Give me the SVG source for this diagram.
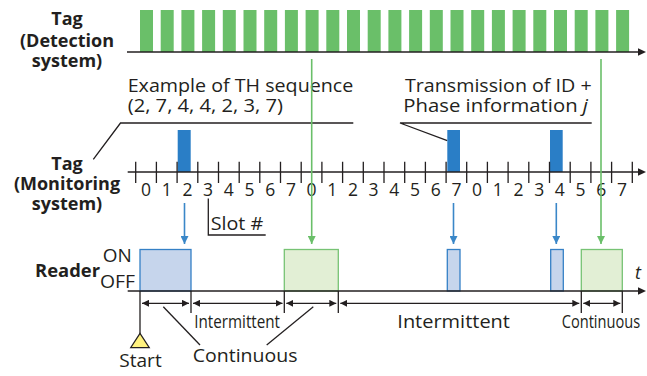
<svg xmlns="http://www.w3.org/2000/svg" width="647" height="376" viewBox="0 0 647 376">
<style>
text{font-family:"Open Sans","Noto Sans","Liberation Sans",sans-serif;fill:#231f20;}
.b{font-weight:bold;font-size:18px;}
.r{font-size:18px;}
.d{font-size:17.5px;text-anchor:middle;}
.ln{stroke:#231f20;stroke-width:1.3;fill:none;}
.ax{stroke:#231f20;stroke-width:1.5;fill:none;}
.tk{stroke:#231f20;stroke-width:1.3;}
.gb{fill:#6abf69;}
.bp{fill:#2a7ec6;}
.gl{stroke:#6abf69;stroke-width:1.6;fill:none;}
.bl{stroke:#3a87c8;stroke-width:1.6;fill:none;}
.rb{fill:#c6d5ec;stroke:#3580c6;stroke-width:1.3;}
.rg{fill:#e2efd5;stroke:#77c374;stroke-width:1.3;}
</style>
<defs>
<marker id="ah" viewBox="0 0 10 10" refX="10" refY="5" markerWidth="7" markerHeight="7" markerUnits="userSpaceOnUse" orient="auto-start-reverse"><path d="M0,0L10,5L0,10z" fill="#231f20"/></marker>
<marker id="ab" viewBox="0 0 10 10" refX="10" refY="5" markerWidth="8" markerHeight="8" markerUnits="userSpaceOnUse" orient="auto"><path d="M0,0L10,5L0,10z" fill="#3a87c8"/></marker>
<marker id="ag" viewBox="0 0 10 10" refX="10" refY="5" markerWidth="8" markerHeight="8" markerUnits="userSpaceOnUse" orient="auto"><path d="M0,0L10,5L0,10z" fill="#6abf69"/></marker>
</defs>

<g id="label-tag-detection">
<text class="b" x="67" y="25" text-anchor="middle">Tag</text>
<text class="b" x="67" y="46.5" text-anchor="middle">(Detection</text>
<text class="b" x="67" y="67" text-anchor="middle">system)</text>
</g>

<g id="detection-pulses">
<rect class="gb" x="140" y="10" width="13" height="42"/>
<rect class="gb" x="160.7" y="10" width="13" height="42"/>
<rect class="gb" x="181.4" y="10" width="13" height="42"/>
<rect class="gb" x="202.1" y="10" width="13" height="42"/>
<rect class="gb" x="222.8" y="10" width="13" height="42"/>
<rect class="gb" x="243.5" y="10" width="13" height="42"/>
<rect class="gb" x="264.2" y="10" width="13" height="42"/>
<rect class="gb" x="284.9" y="10" width="13" height="42"/>
<rect class="gb" x="305.6" y="10" width="13" height="42"/>
<rect class="gb" x="326.3" y="10" width="13" height="42"/>
<rect class="gb" x="347.0" y="10" width="13" height="42"/>
<rect class="gb" x="367.7" y="10" width="13" height="42"/>
<rect class="gb" x="388.4" y="10" width="13" height="42"/>
<rect class="gb" x="409.1" y="10" width="13" height="42"/>
<rect class="gb" x="429.8" y="10" width="13" height="42"/>
<rect class="gb" x="450.5" y="10" width="13" height="42"/>
<rect class="gb" x="471.2" y="10" width="13" height="42"/>
<rect class="gb" x="491.9" y="10" width="13" height="42"/>
<rect class="gb" x="512.6" y="10" width="13" height="42"/>
<rect class="gb" x="533.3" y="10" width="13" height="42"/>
<rect class="gb" x="554.0" y="10" width="13" height="42"/>
<rect class="gb" x="574.7" y="10" width="13" height="42"/>
<rect class="gb" x="595.4" y="10" width="13" height="42"/>
<rect class="gb" x="616.1" y="10" width="13" height="42"/>
<line class="ax" x1="127" y1="52" x2="639" y2="52"/>
<path d="M638,48.3L646,52L638,55.7z" fill="#231f20"/>
</g>

<g id="note-th-sequence">
<text class="r" x="127.7" y="91.5" textLength="225.6" lengthAdjust="spacingAndGlyphs">Example of TH sequence</text>
<text class="r" x="127.7" y="111.5" textLength="155.3" lengthAdjust="spacingAndGlyphs">(2, 7, 4, 4, 2, 3, 7)</text>
<polyline class="ln" points="353.3,123 120.5,123 93.3,159.3"/>
</g>

<g id="note-transmission">
<text class="r" x="405" y="91.5" textLength="186.7" lengthAdjust="spacingAndGlyphs">Transmission of ID +</text>
<text class="r" x="403.3" y="111.5" textLength="184.7" lengthAdjust="spacingAndGlyphs">Phase information <tspan font-style="italic">j</tspan></text>
<polyline class="ln" points="591.7,123 400,123 447.3,140.7"/>
</g>

<g id="label-tag-monitoring">
<text class="b" x="67" y="170" text-anchor="middle">Tag</text>
<text class="b" x="67" y="190" text-anchor="middle">(Monitoring</text>
<text class="b" x="67" y="210" text-anchor="middle">system)</text>
</g>

<g id="monitoring-timeline">
<rect class="bp" x="177.7" y="130" width="13" height="42"/>
<rect class="bp" x="447.3" y="130" width="12.7" height="42"/>
<rect class="bp" x="550" y="130" width="12.7" height="42"/>
<line class="ax" x1="127.7" y1="172" x2="639" y2="172"/>
<path d="M638,168.3L646,172L638,175.7z" fill="#231f20"/>
<path class="tk" d="M135.7,161.7V183M156.4,161.7V183M177.1,161.7V183M197.8,161.7V183M218.5,161.7V183M239.2,161.7V183M259.8,161.7V183M280.5,161.7V183M301.2,161.7V183M321.9,161.7V183M342.6,161.7V183M363.3,161.7V183M384.0,161.7V183M404.7,161.7V183M425.4,161.7V183M446.1,161.7V183M466.7,161.7V183M487.4,161.7V183M508.1,161.7V183M528.8,161.7V183M549.5,161.7V183M570.2,161.7V183M590.9,161.7V183M611.6,161.7V183M632.3,161.7V183"/>
<text class="d" x="146.0" y="195.5">0</text>
<text class="d" x="166.7" y="195.5">1</text>
<text class="d" x="187.4" y="195.5">2</text>
<text class="d" x="208.1" y="195.5">3</text>
<text class="d" x="228.8" y="195.5">4</text>
<text class="d" x="249.5" y="195.5">5</text>
<text class="d" x="270.2" y="195.5">6</text>
<text class="d" x="290.9" y="195.5">7</text>
<text class="d" x="311.6" y="195.5">0</text>
<text class="d" x="332.2" y="195.5">1</text>
<text class="d" x="352.9" y="195.5">2</text>
<text class="d" x="373.6" y="195.5">3</text>
<text class="d" x="394.3" y="195.5">4</text>
<text class="d" x="415.0" y="195.5">5</text>
<text class="d" x="435.7" y="195.5">6</text>
<text class="d" x="456.4" y="195.5">7</text>
<text class="d" x="477.1" y="195.5">0</text>
<text class="d" x="497.8" y="195.5">1</text>
<text class="d" x="518.5" y="195.5">2</text>
<text class="d" x="539.2" y="195.5">3</text>
<text class="d" x="559.8" y="195.5">4</text>
<text class="d" x="580.5" y="195.5">5</text>
<text class="d" x="601.2" y="195.5">6</text>
<text class="d" x="621.9" y="195.5">7</text>
</g>

<g id="note-slot">
<polyline class="ln" points="208.3,198.5 208.3,235 265.7,235"/>
<text class="r" x="210.7" y="230" textLength="52.6" lengthAdjust="spacingAndGlyphs">Slot #</text>
</g>

<g id="connectors">
<line class="gl" x1="311.7" y1="59" x2="311.7" y2="244" marker-end="url(#ag)"/>
<line class="gl" x1="601" y1="59" x2="601" y2="244" marker-end="url(#ag)"/>
<line class="bl" x1="184.5" y1="203" x2="184.5" y2="244" marker-end="url(#ab)"/>
<line class="bl" x1="453.5" y1="203" x2="453.5" y2="244" marker-end="url(#ab)"/>
<line class="bl" x1="556.3" y1="203" x2="556.3" y2="244" marker-end="url(#ab)"/>
</g>

<g id="label-reader">
<text class="b" x="35" y="276.7" textLength="65" lengthAdjust="spacingAndGlyphs">Reader</text>
<text class="r" x="102.7" y="261.7" textLength="29" lengthAdjust="spacingAndGlyphs">ON</text>
<text class="r" x="100" y="288.3" textLength="35" lengthAdjust="spacingAndGlyphs">OFF</text>
</g>

<g id="reader-timeline">
<rect class="rb" x="140" y="249.5" width="51" height="41.5"/>
<rect class="rg" x="284.3" y="249.5" width="54" height="41.5"/>
<rect class="rb" x="447.3" y="249.5" width="12.7" height="41.5"/>
<rect class="rb" x="550.7" y="249.5" width="12.6" height="41.5"/>
<rect class="rg" x="581.3" y="249.5" width="41" height="41.5"/>
<line class="ax" x1="127.7" y1="291" x2="639" y2="291"/>
<path d="M638,287.3L646,291L638,294.7z" fill="#231f20"/>
<text class="r" x="635" y="279" font-style="italic" font-size="20">t</text>
</g>

<g id="durations">
<line class="ln" x1="140" y1="291" x2="140" y2="334"/>
<path class="ln" d="M191,291V313M284.3,291V313M338.3,291V313M581.3,291V313M622.3,291V313"/>
<line class="ln" x1="142" y1="303.3" x2="189" y2="303.3" marker-start="url(#ah)" marker-end="url(#ah)"/>
<line class="ln" x1="193" y1="303.3" x2="282.5" y2="303.3" marker-start="url(#ah)" marker-end="url(#ah)"/>
<line class="ln" x1="286.3" y1="303.3" x2="336.3" y2="303.3" marker-start="url(#ah)" marker-end="url(#ah)"/>
<line class="ln" x1="340.3" y1="303.3" x2="579.3" y2="303.3" marker-start="url(#ah)" marker-end="url(#ah)"/>
<line class="ln" x1="583.3" y1="303.3" x2="620.3" y2="303.3" marker-start="url(#ah)" marker-end="url(#ah)"/>
<text class="r" x="194.3" y="328" font-size="16.5" textLength="85.7" lengthAdjust="spacingAndGlyphs">Intermittent</text>
<text class="r" x="397.3" y="328" font-size="18.5" textLength="112.7" lengthAdjust="spacingAndGlyphs">Intermittent</text>
<text class="r" x="561.7" y="328" font-size="16.5" textLength="78.5" lengthAdjust="spacingAndGlyphs">Continuous</text>
<text class="r" x="192.7" y="361.7" font-size="18.5" textLength="104.8" lengthAdjust="spacingAndGlyphs">Continuous</text>
<line class="ln" x1="163.3" y1="306.7" x2="200" y2="345"/>
<line class="ln" x1="313.3" y1="306.7" x2="266.7" y2="345"/>
</g>

<g id="start">
<polygon points="140,333.3 130.7,347.7 149.3,347.7" fill="#fff27f" stroke="#231f20" stroke-width="1.2"/>
<text class="r" x="119.3" y="367.3" font-size="18.5" textLength="42.4" lengthAdjust="spacingAndGlyphs">Start</text>
</g>
</svg>
